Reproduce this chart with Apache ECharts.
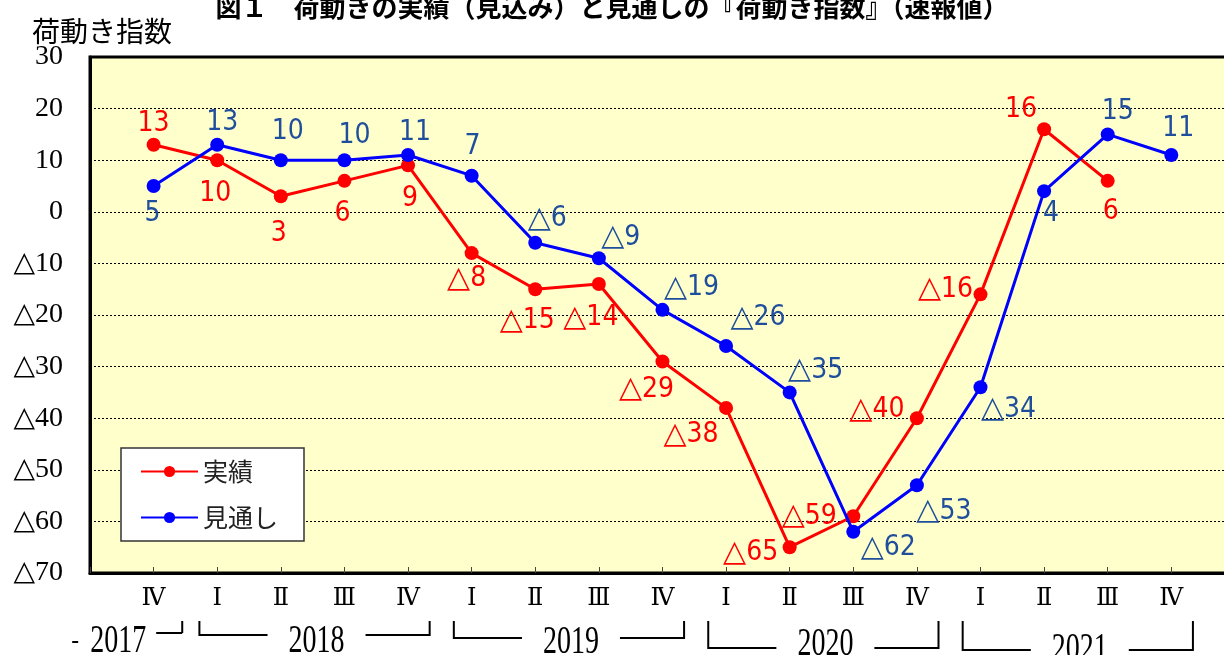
<!DOCTYPE html>
<html>
<head>
<meta charset="utf-8">
<script src="https://cdn.jsdelivr.net/npm/echarts@6/dist/echarts.min.js"></script>
<style>
  html, body { margin: 0; padding: 0; background: #fff; }
  #main { width: 1224px; height: 655px; }
</style>
</head>
<body>
<div id="main"></div>
<script>
// ---- data ----
const quarterLabels = ['Ⅳ','Ⅰ','Ⅱ','Ⅲ','Ⅳ','Ⅰ','Ⅱ','Ⅲ','Ⅳ','Ⅰ','Ⅱ','Ⅲ','Ⅳ','Ⅰ','Ⅱ','Ⅲ','Ⅳ'];
const quarterYears  = ['2017','2018','2018','2018','2018','2019','2019','2019','2019','2020','2020','2020','2020','2021','2021','2021','2021'];
const actual   = [13, 10, 3, 6, 9, -8, -15, -14, -29, -38, -65, -59, -40, -16, 16, 6];
const forecast = [5, 13, 10, 10, 11, 7, -6, -9, -19, -26, -35, -62, -53, -34, 4, 15, 11];
const yTicks = { min: -70, max: 30, interval: 10 };
const seriesNames = ['実績', '見通し'];
const titleText = '図１　荷動きの実績（見込み）と見通しの『荷動き指数』（速報値）';
const yName = '荷動き指数';

// ---- layout (label offsets relative to each point, px) ----
const actualLabelOffsets = [
  [0,-21],[-2,34],[-2,37],[-2,33],[2,33],[-5,26],[-8,32],[-8,34],
  [-16,28],[-35,27],[-39,6],[-44,0],[-40,-8],[-35,-5],[-23,-20],[3,31]
];
const forecastLabelOffsets = [
  [-1,28],[5,-22],[7,-28],[10,-24],[7,-22],[1,-29],[12,-24],[22,-21],
  [29,-22],[32,-28],[26,-22],[35,16],[27,26],[28,22],[7,23],[10,-23],[7,-26]
];
const bracketBottom = { '2017': 635, '2018': 635, '2019': 638, '2020': 648, '2021': 650 };
const yearTextY     = { '2017': 642, '2018': 642, '2019': 643, '2020': 645, '2021': 650 };

const fmt = v => (v < 0 ? '△' + (-v) : String(v));
const fmtRich = v => (v < 0 ? '{t|△}' + (-v) : String(v));
const labelFont = "'Liberation Sans Narrow', 'DejaVu Sans Condensed', 'DejaVu Sans', sans-serif";
const serifFont = "'Liberation Serif', 'DejaVu Serif', serif";

function buildData(vals, offs) {
  return vals.map((v, i) => ({ value: [i, v], label: { offset: offs[i] } }));
}

const chart = echarts.init(document.getElementById('main'), null, { renderer: 'canvas' });

const richTri = { t: { fontSize: 30, fontFamily: "'DejaVu Sans', sans-serif" } };

const option = {
  animation: false,
  backgroundColor: '#ffffff',
  title: [
    { text: titleText, left: 'center', top: -11,
      textStyle: { fontSize: 26, fontWeight: 'bold', color: '#000', fontFamily: "'Noto Sans CJK JP', sans-serif", lineHeight: 26 } },
    { text: yName, left: 27, top: 12,
      textStyle: { fontSize: 28, fontWeight: 'normal', color: '#000', fontFamily: "'Noto Sans CJK JP', sans-serif" } }
  ],
  legend: {
    orient: 'vertical',
    left: 121, top: 448,
    padding: [11, 26, 11, 19],
    itemGap: 21,
    itemWidth: 57, itemHeight: 14,
    backgroundColor: '#ffffff',
    borderColor: '#333',
    borderWidth: 1.5,
    borderRadius: 0,
    textStyle: { fontSize: 25, color: '#222', fontFamily: "'Noto Sans CJK JP', sans-serif" },
    data: seriesNames
  },
  grid: {
    left: 90, right: -2, top: 57, bottom: 82,
    show: true, backgroundColor: '#ffffcc', borderColor: '#000', borderWidth: 3,
    outerBoundsMode: 'none'
  },
  xAxis: {
    type: 'value',
    min: -1, max: 16.86, interval: 1,
    axisLine: { show: true, onZero: false, lineStyle: { color: '#000', width: 3 } },
    axisTick: { show: true, inside: true, length: 6, lineStyle: { color: '#444', width: 1 } },
    splitLine: { show: false },
    axisLabel: {
      margin: 14,
      fontSize: 24, color: '#000', fontFamily: serifFont,
      showMinLabel: true, showMaxLabel: true,
      formatter: v => (Number.isInteger(v) && v >= 0 && v < quarterLabels.length ? quarterLabels[v] : '')
    }
  },
  yAxis: {
    type: 'value',
    min: yTicks.min, max: yTicks.max, interval: yTicks.interval,
    axisLine: { show: true, onZero: false, lineStyle: { color: '#000', width: 3 } },
    axisTick: { show: false },
    splitLine: { show: true, lineStyle: { color: '#000', width: 1, type: [2, 2] } },
    axisLabel: { margin: 27, fontSize: 28, color: '#000', fontFamily: serifFont, formatter: fmt }
  },
  series: [
    {
      name: seriesNames[0], type: 'line',
      data: buildData(actual, actualLabelOffsets),
      symbol: 'circle', symbolSize: 14,
      lineStyle: { color: '#ff0000', width: 3 },
      itemStyle: { color: '#ff0000' },
      label: { show: true, position: 'inside', color: '#ff0000', fontSize: 28, fontFamily: labelFont,
               rich: richTri, formatter: p => fmtRich(p.value[1]) },
      z: 2
    },
    {
      name: seriesNames[1], type: 'line',
      data: buildData(forecast, forecastLabelOffsets),
      symbol: 'circle', symbolSize: 14,
      lineStyle: { color: '#0000ff', width: 3 },
      itemStyle: { color: '#0000ff' },
      label: { show: true, position: 'inside', color: '#1f4e9c', fontSize: 28, fontFamily: labelFont,
               rich: richTri, formatter: p => fmtRich(p.value[1]) },
      z: 3
    }
  ]
};
chart.setOption(option);

// ---- year brackets below the quarter labels ----
function px(i) { return chart.convertToPixel({ xAxisIndex: 0 }, i); }
const step = px(1) - px(0);
const years = [];
quarterYears.forEach((y, i) => {
  let g = years.find(e => e.year === y);
  if (!g) { g = { year: y, s: i, e: i }; years.push(g); } else { g.e = i; }
});
const graphics = [];
const lineStyle = { stroke: '#000', lineWidth: 2 };
const vTop = 621;
years.forEach(g => {
  const single = g.s === g.e;
  const by = bracketBottom[g.year];
  const ty = yearTextY[g.year];
  const rx = px(g.e) + (single ? 0.45 : 0.34) * step;
  let lx, cx;
  if (single) {
    lx = px(g.s) - 1.28 * step;
    cx = lx + 46;
    graphics.push({ type: 'line', shape: { x1: lx, y1: ty, x2: lx + 6, y2: ty }, style: lineStyle });
    graphics.push({ type: 'line', shape: { x1: cx + 38, y1: by - 2, x2: rx, y2: by - 2 }, style: lineStyle });
    graphics.push({ type: 'line', shape: { x1: rx, y1: vTop, x2: rx, y2: by - 2 }, style: lineStyle });
  } else {
    lx = px(g.s) - 0.28 * step;
    cx = (lx + rx) / 2 + 2;
    graphics.push({ type: 'polyline', shape: { points: [[lx, vTop], [lx, by], [cx - 49, by]] }, style: Object.assign({ fill: null }, lineStyle) });
    graphics.push({ type: 'polyline', shape: { points: [[cx + 49, by], [rx, by], [rx, vTop]] }, style: Object.assign({ fill: null }, lineStyle) });
  }
  graphics.push({
    type: 'text', x: cx, y: ty, scaleY: 1.4,
    style: { text: g.year, x: 0, y: 0, align: 'center', verticalAlign: 'middle',
             font: "28px 'Liberation Serif', 'DejaVu Serif', serif", fill: '#000' }
  });
});
chart.setOption({ graphic: graphics });
</script>
</body>
</html>
